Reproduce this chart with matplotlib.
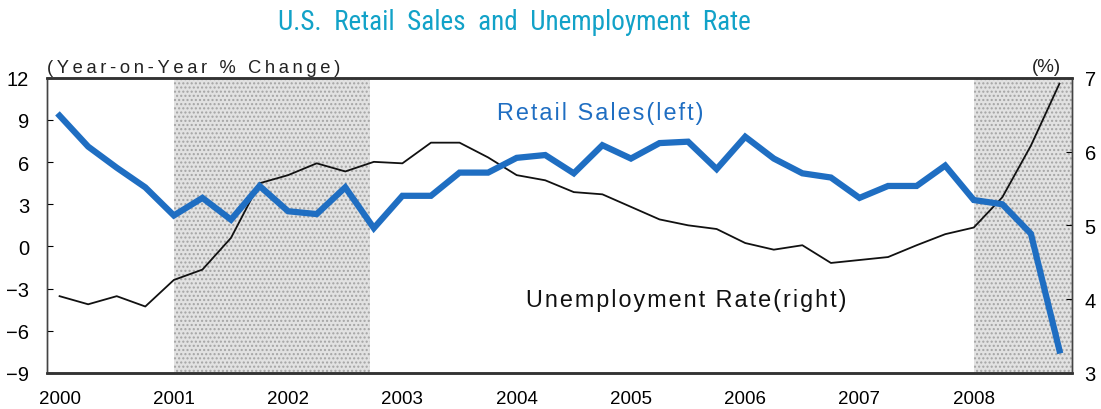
import matplotlib
matplotlib.use('Agg')
import matplotlib.pyplot as plt
from matplotlib import font_manager

# Quarterly observations, 2000Q1 - 2008Q4
years = list(range(2000, 2009))
quarters = [y + q / 4 for y in years for q in range(4)]

retail_sales = [9.3, 7.1, 5.6, 4.2,
                2.2, 3.45, 1.9, 4.3,
                2.5, 2.3, 4.2, 1.3,
                3.6, 3.6, 5.25, 5.25,
                6.3, 6.5, 5.2, 7.2,
                6.25, 7.35, 7.45, 5.5,
                7.8, 6.25, 5.2, 4.9,
                3.45, 4.3, 4.3, 5.75,
                3.3, 3.0, 0.9, -7.4]

unemployment = [4.04, 3.93, 4.04, 3.9,
                4.26, 4.4, 4.83, 5.57,
                5.68, 5.84, 5.73, 5.86,
                5.84, 6.12, 6.12, 5.92,
                5.68, 5.61, 5.45, 5.42,
                5.25, 5.08, 5.0, 4.95,
                4.76, 4.67, 4.73, 4.49,
                4.53, 4.57, 4.73, 4.88,
                4.97, 5.38, 6.08, 6.92]

# Recession bands (start, end) in fractional years
recessions = [(2001.0, 2002.72), (2008.0, 2008.9)]

year_ticks = years
left_ticks = [-9, -6, -3, 0, 3, 6, 9, 12]
right_ticks = [3, 4, 5, 6, 7]

installed = {f.name for f in font_manager.fontManager.ttflist}
title_font = 'DejaVu Sans'
for name in ['Liberation Sans Narrow', 'DejaVu Sans Condensed', 'Roboto Condensed']:
    if name in installed:
        title_font = name
        break

label_font = ['Liberation Sans', 'DejaVu Sans']


def spaced(s, gap='\u200a'):
    # open up the tracking by putting a narrow space between letters
    return gap.join(s)


plt.rcParams['font.family'] = ['Liberation Sans', 'DejaVu Sans']

fig = plt.figure(figsize=(11.01, 4.10), dpi=100)
ax2 = fig.add_axes([0.0427, 0.088, 0.931, 0.72])
ax = ax2.twinx()
# left scale belongs to the retail series, right scale to unemployment
ax.yaxis.tick_left()
ax2.yaxis.tick_right()

for x0, x1 in recessions:
    ax2.axvspan(x0, x1, facecolor='#e2e2e2', edgecolor='#a4a4a4',
                hatch='....', linewidth=0, zorder=0)

ax2.plot(quarters, unemployment, color='#111111', linewidth=1.3, zorder=4)
ax.plot(quarters, retail_sales, color='#1f6ec2', linewidth=4.5,
        solid_joinstyle='miter', zorder=5)

ax2.set_xlim(1999.89, 2008.86)
ax.set_ylim(-9, 12)
ax2.set_ylim(3, 7)

ax2.set_xticks(year_ticks)
ax2.set_xticklabels([str(y) for y in year_ticks])
ax.set_yticks(left_ticks)
ax2.set_yticks(right_ticks)

ax2.tick_params(axis='x', length=0, labelsize=13.5, pad=12)
ax.tick_params(axis='y', direction='in', length=4, labelsize=14.5, pad=13,
               left=True, labelleft=True, right=False, labelright=False)
ax2.tick_params(axis='y', direction='in', length=4, labelsize=14.5, pad=9,
                left=False, labelleft=False, right=True, labelright=True)

for a in (ax, ax2):
    for side in ('top', 'bottom'):
        a.spines[side].set_linewidth(1.8)
        a.spines[side].set_color('#333333')
    for side in ('left', 'right'):
        a.spines[side].set_linewidth(1.0)
        a.spines[side].set_color('#444444')

fig.text(0.467, 0.945, 'U.S.  Retail  Sales  and  Unemployment  Rate',
         ha='center', va='center', fontsize=19.5, color='#12a2c8',
         family=title_font)

fig.text(0.043, 0.832, spaced('(Year-on-Year % Change)', '\u2009'), ha='left',
         va='center', fontsize=13.2, color='#222222', family=label_font)
fig.text(0.95, 0.835, '(%)', ha='center', va='center', fontsize=13.5,
         color='#222222', family=label_font)

ax.text(2004.73, 9.5, spaced('Retail Sales(left)'), ha='center', va='center',
        fontsize=16.8, color='#1f6ec2', family=label_font)
ax.text(2005.48, -3.75, spaced('Unemployment Rate(right)'), ha='center',
        va='center', fontsize=16.8, color='#111111', family=label_font)

fig.savefig('out.png', dpi=100)
